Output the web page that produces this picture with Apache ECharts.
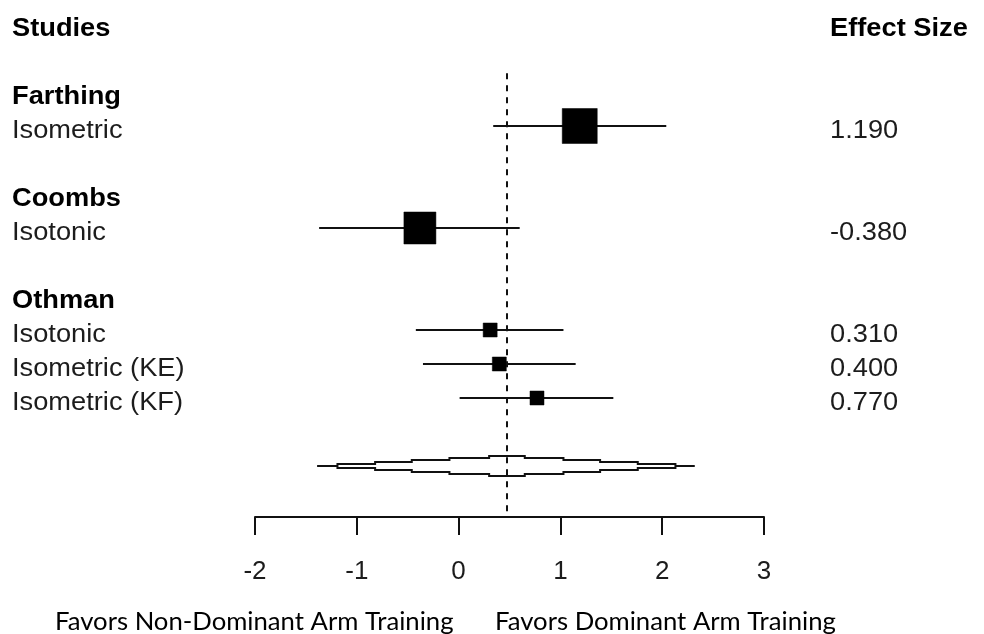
<!DOCTYPE html>
<html>
<head>
<meta charset="utf-8">
<script src="https://cdn.jsdelivr.net/npm/echarts@6/dist/echarts.min.js"></script>
<style>
  html, body { margin: 0; padding: 0; background: #ffffff; }
  #chart { width: 984px; height: 634px; }
</style>
</head>
<body>
<div id="chart"></div>
<script>
// ---------- data ----------
const headerLeft = 'Studies';
const headerRight = 'Effect Size';
const studyNames = ['Farthing', 'Coombs', 'Othman'];
const studyRows = [2, 5, 8];
const armLabels = ['Isometric', 'Isotonic', 'Isotonic', 'Isometric (KE)', 'Isometric (KF)'];
const armRows = [3, 6, 9, 10, 11];
const effectSizes = [1.19, -0.38, 0.31, 0.40, 0.77];
const ciLower = [0.34, -1.37, -0.42, -0.35, 0.01];
const ciUpper = [2.04, 0.60, 1.03, 1.15, 1.52];
const weights = [35, 32, 14, 14, 14];
const summaryRow = 13;
const summaryEstimate = 0.47;
const summaryBreaks = [-1.39, -1.19, -0.82, -0.46, -0.09, 0.30, 0.65, 1.03, 1.39, 1.76, 2.13, 2.32];
const xTicks = [-2, -1, 0, 1, 2, 3];
const favorLeft = 'Favors Non-Dominant Arm Training';
const favorRight = 'Favors Dominant Arm Training';

// ---------- styles ----------
const TXT = '#1c1c1c';
const FONT = '"Liberation Sans", Arial, sans-serif';
const FS = 25;
const SX = 1.09;
const TEXT_DY = 5.5;
const LABEL_X = 12;
const VALUE_X = 830;
const LW = 2;
const stepHalf = [0, 2, 4, 6, 8, 10, 8, 6, 4, 2, 0];

const chart = echarts.init(document.getElementById('chart'), null, { renderer: 'canvas' });

const studyData = effectSizes.map((v, i) => [v, armRows[i], ciLower[i], ciUpper[i], weights[i]]);

function txt(x, y, text, bold, color) {
  return { type: 'text', x: x, y: y, scaleX: SX, scaleY: 1,
    style: { text: text, fill: color, font: (bold ? 'bold ' : '') + FS + 'px ' + FONT,
             textAlign: 'left', verticalAlign: 'middle' } };
}

const option = {
  animation: false,
  backgroundColor: '#ffffff',
  grid: { left: 255, right: 984 - 764, top: 7, bottom: 634 - 517 },
  xAxis: {
    type: 'value',
    min: xTicks[0],
    max: xTicks[xTicks.length - 1],
    interval: 1,
    splitLine: { show: false },
    axisLine: { show: true, onZero: false, lineStyle: { color: '#111', width: LW } },
    axisTick: { show: true, length: 18, lineStyle: { color: '#111', width: LW } },
    axisLabel: { color: TXT, fontSize: 26, fontFamily: FONT, margin: 42 }
  },
  yAxis: {
    type: 'value', inverse: true, min: -0.5, max: 14.5, show: false
  },
  series: [
    {
      // study CIs and weight squares
      type: 'custom',
      clip: false,
      data: studyData,
      renderItem: function (params, api) {
        const y = api.coord([0, api.value(1)])[1];
        const xl = api.coord([api.value(2), 0])[0];
        const xu = api.coord([api.value(3), 0])[0];
        const xc = api.coord([api.value(0), 0])[0];
        const s = api.value(4);
        return {
          type: 'group',
          children: [
            { type: 'line', shape: { x1: xl, y1: y, x2: xu, y2: y },
              style: { stroke: '#111', lineWidth: LW } },
            { type: 'rect', shape: { x: xc - s / 2, y: y - s / 2, width: s, height: s },
              style: { fill: '#000', stroke: '#000', lineWidth: 0.5 } }
          ]
        };
      },
      markLine: {
        silent: true,
        symbol: ['none', 'none'],
        label: { show: false },
        lineStyle: { color: '#111', type: [6, 6], width: LW },
        data: [[{ coord: [summaryEstimate, 1.45] }, { coord: [summaryEstimate, 14.5] }]]
      }
    },
    {
      // summary stepped polygon
      type: 'custom',
      clip: false,
      data: [[summaryEstimate, summaryRow]],
      renderItem: function (params, api) {
        const yc = api.coord([0, api.value(1)])[1];
        const xs = summaryBreaks.map(b => api.coord([b, 0])[0]);
        const top = [], bot = [];
        for (let i = 0; i < xs.length - 1; i++) {
          top.push([xs[i], yc - stepHalf[i]], [xs[i + 1], yc - stepHalf[i]]);
          bot.push([xs[i], yc + stepHalf[i]], [xs[i + 1], yc + stepHalf[i]]);
        }
        const pts = top.concat(bot.reverse());
        return {
          type: 'polygon',
          shape: { points: pts },
          style: { fill: '#fff', stroke: '#111', lineWidth: LW }
        };
      }
    },
    {
      // left labels: study names (bold)
      type: 'custom',
      clip: false,
      data: studyNames.map((n, i) => [0, studyRows[i]]),
      renderItem: function (params, api) {
        const y = api.coord([0, api.value(1)])[1];
        return txt(LABEL_X, y + TEXT_DY, studyNames[params.dataIndex], true, '#000');
      }
    },
    {
      // left labels: arms
      type: 'custom',
      clip: false,
      data: armLabels.map((n, i) => [0, armRows[i]]),
      renderItem: function (params, api) {
        const y = api.coord([0, api.value(1)])[1];
        return txt(LABEL_X, y + TEXT_DY, armLabels[params.dataIndex], false, TXT);
      }
    },
    {
      // effect size values
      type: 'custom',
      clip: false,
      data: effectSizes.map((v, i) => [v, armRows[i]]),
      renderItem: function (params, api) {
        const y = api.coord([0, api.value(1)])[1];
        return txt(VALUE_X, y + TEXT_DY, effectSizes[params.dataIndex].toFixed(3), false, TXT);
      }
    },
    {
      // headers
      type: 'custom',
      clip: false,
      data: [[0, 0]],
      renderItem: function (params, api) {
        const y = api.coord([0, api.value(1)])[1] + TEXT_DY;
        return { type: 'group', children: [
          txt(LABEL_X, y, headerLeft, true, '#000'),
          txt(VALUE_X, y, headerRight, true, '#000')
        ] };
      }
    }
  ],
  graphic: [
    { type: 'text', left: 55, top: 609,
      style: { text: favorLeft, fill: '#000', font: '25.7px Lato, "Open Sans", sans-serif' } },
    { type: 'text', left: 495, top: 609,
      style: { text: favorRight, fill: '#000', font: '25.7px Lato, "Open Sans", sans-serif' } }
  ]
};

chart.setOption(option);
</script>
</body>
</html>
